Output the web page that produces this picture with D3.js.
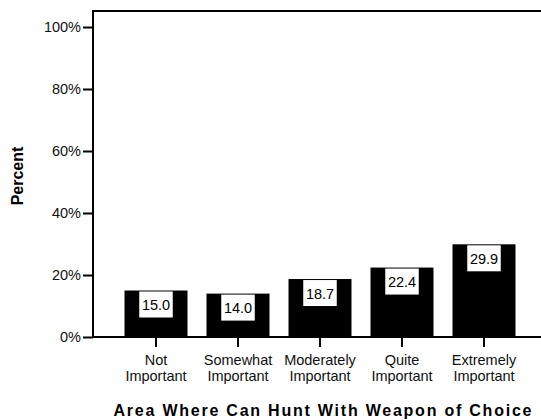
<!DOCTYPE html>
<html>
<head>
<meta charset="utf-8">
<script src="https://cdn.jsdelivr.net/npm/d3@7/dist/d3.min.js"></script>
<style>
  html, body { margin: 0; padding: 0; background: #fff; }
  svg { display: block; font-family: Arial, "Liberation Sans", sans-serif; }
</style>
</head>
<body>
<svg id="chart" width="541" height="420"></svg>
<script>
const categories = [["Not", "Important"], ["Somewhat", "Important"], ["Moderately", "Important"], ["Quite", "Important"], ["Extremely", "Important"]];
const values = [15.0, 14.0, 18.7, 22.4, 29.9];
const yTicks = [0, 20, 40, 60, 80, 100];
const xTitle = "Area Where Can Hunt With Weapon of Choice";
const yTitle = "Percent";

const svg = d3.select("#chart");
const plotLeft = 93, plotRight = 541, plotTop = 11, plotBottom = 337;

const keys = categories.map(c => c.join(" "));
const x = d3.scaleBand().domain(keys).range([115, 525]).paddingInner(0.232).paddingOuter(0.116);
const y = d3.scaleLinear().domain([0, 100]).range([plotBottom, 27]);

// bars
svg.append("g").selectAll("rect").data(values).join("rect")
  .attr("x", (d, i) => x(keys[i]))
  .attr("y", d => y(d))
  .attr("width", x.bandwidth())
  .attr("height", d => y(0) - y(d))
  .attr("fill", "#000");

// label boxes
const bw = 33.5, bh = 26;
const lbl = svg.append("g").selectAll("g").data(values).join("g")
  .attr("transform", (d, i) => `translate(${x(keys[i]) + x.bandwidth() / 2},${y(d) + 1})`);
lbl.append("rect").attr("x", -bw / 2).attr("y", 0).attr("width", bw).attr("height", bh).attr("fill", "#fff");
lbl.append("text").attr("text-anchor", "middle").attr("y", 18.5)
  .attr("font-size", 14.5).attr("fill", "#000")
  .text(d => d.toFixed(1));

// frame top line
svg.append("line").attr("x1", plotLeft - 1).attr("x2", plotRight).attr("y1", plotTop).attr("y2", plotTop)
  .attr("stroke", "#000").attr("stroke-width", 2);

// y axis
const yAxis = svg.append("g").attr("transform", `translate(${plotLeft},0)`)
  .call(d3.axisLeft(y).tickValues(yTicks).tickSize(10).tickPadding(2).tickFormat(d => d + "%"));
yAxis.select(".domain").remove();
yAxis.append("line").attr("x1", 0).attr("x2", 0).attr("y1", plotTop - 1).attr("y2", plotBottom + 1)
  .attr("stroke", "#000").attr("stroke-width", 2);
yAxis.selectAll(".tick line").attr("stroke", "#000").attr("stroke-width", 2);
yAxis.selectAll(".tick text").attr("font-size", 14.5).attr("fill", "#111")
  .attr("font-family", "Arial, 'Liberation Sans', sans-serif");

// x axis
const xAxis = svg.append("g").attr("transform", `translate(0,${plotBottom})`)
  .call(d3.axisBottom(x).tickSize(10).tickFormat(""));
xAxis.select(".domain").remove();
xAxis.append("line").attr("x1", plotLeft - 1).attr("x2", plotRight).attr("y1", 0).attr("y2", 0)
  .attr("stroke", "#000").attr("stroke-width", 2);
xAxis.selectAll(".tick line").attr("stroke", "#000").attr("stroke-width", 2);
xAxis.selectAll(".tick").each(function(d, i) {
  const t = d3.select(this).append("text").attr("text-anchor", "middle")
    .attr("font-size", 14.5).attr("fill", "#111")
    .attr("font-family", "Arial, 'Liberation Sans', sans-serif");
  categories[i].forEach((line, j) => {
    t.append("tspan").attr("x", 0).attr("y", 28 + j * 15.5).text(line);
  });
});

// titles
svg.append("text").attr("x", 322.5).attr("y", 416).attr("text-anchor", "middle")
  .attr("font-size", 16).attr("font-weight", "bold").attr("fill", "#000")
  .attr("textLength", 418).attr("lengthAdjust", "spacing")
  .text(xTitle);
svg.append("text").attr("transform", "translate(23,176) rotate(-90)").attr("text-anchor", "middle")
  .attr("font-size", 16).attr("font-weight", "bold").attr("fill", "#000")
  .text(yTitle);
</script>
</body>
</html>
